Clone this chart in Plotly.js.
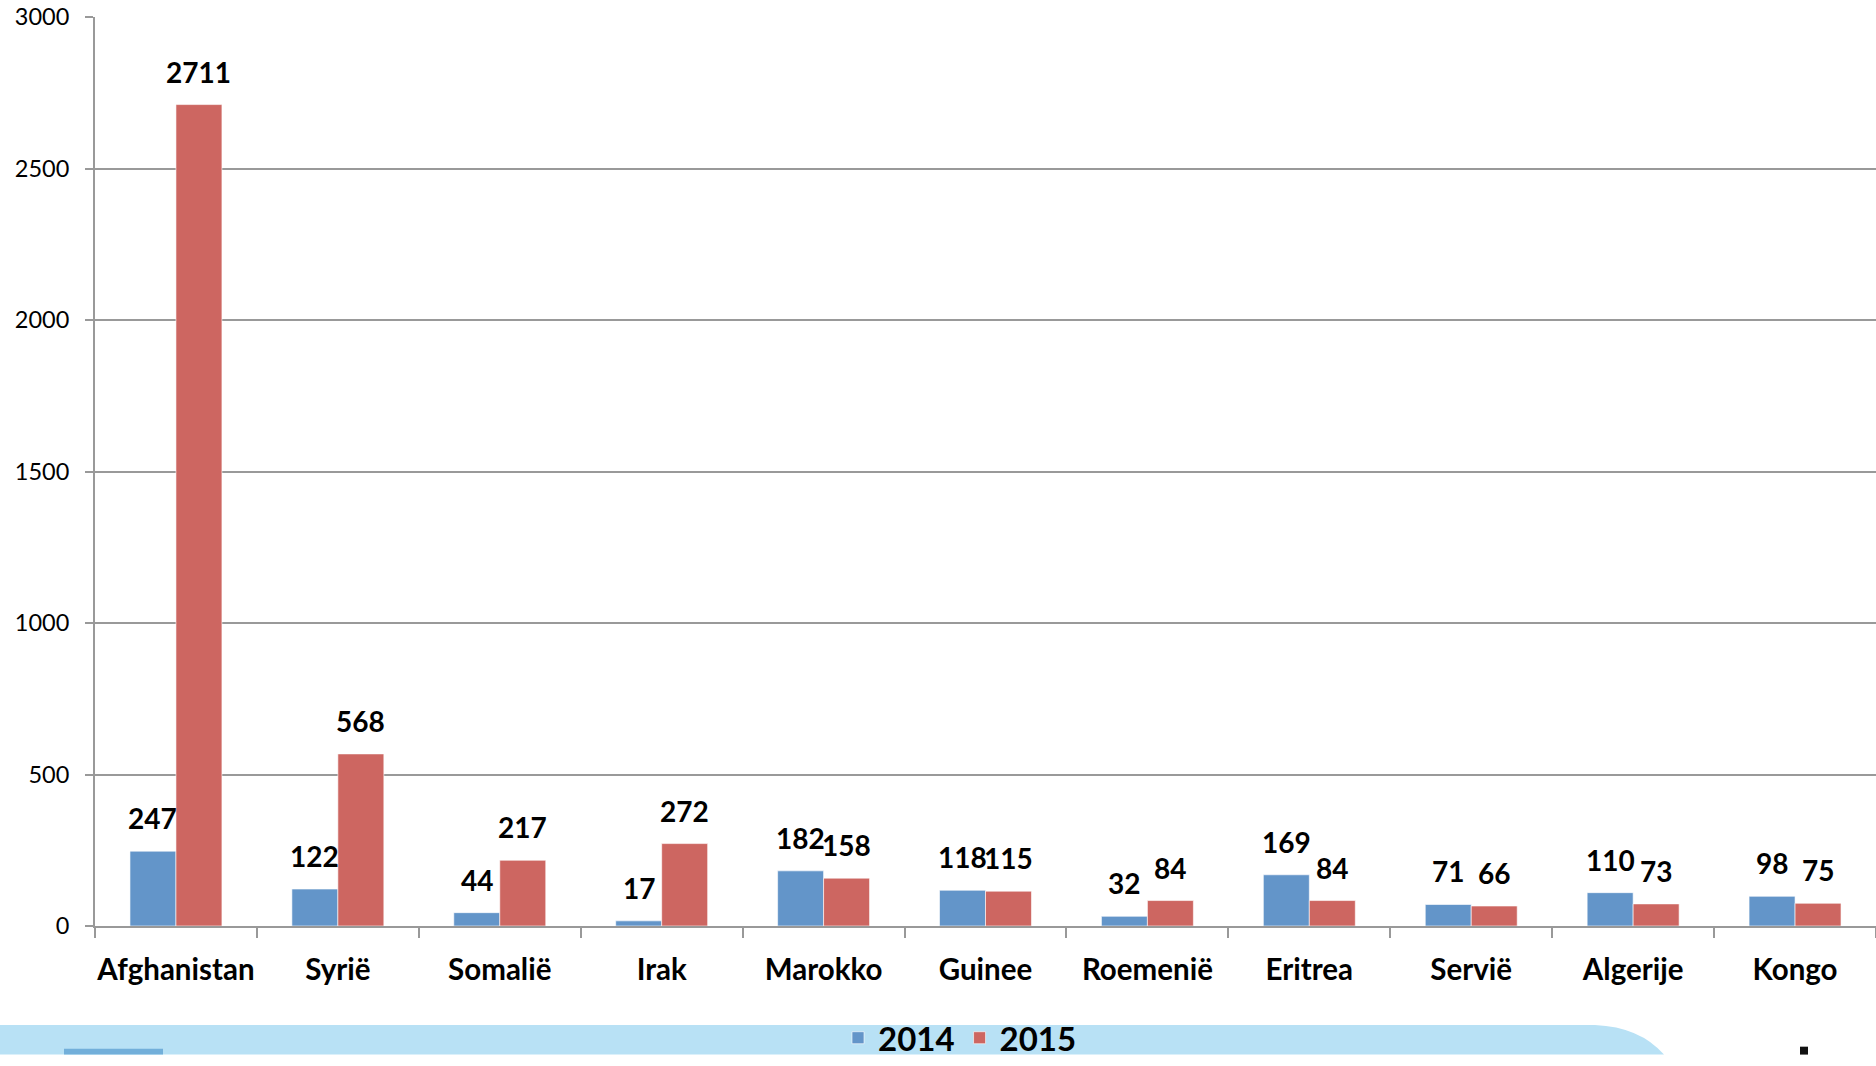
<!DOCTYPE html>
<html>
<head>
<meta charset="utf-8">
<script src="https://cdn.plot.ly/plotly-3.0.1.min.js"></script>
<style>html,body{margin:0;padding:0;background:#fff;}#chart{width:1876px;height:1066px;}</style>
</head>
<body>
<div id="chart"></div>
<script>
const categories = ["Afghanistan","Syrië","Somalië","Irak","Marokko","Guinee","Roemenië","Eritrea","Servië","Algerije","Kongo"];
const v2014 = [247,122,44,17,182,118,32,169,71,110,98];
const v2015 = [2711,568,217,272,158,115,84,84,66,73,75];
const seriesNames = ["2014","2015"];
const yTicks = [0,500,1000,1500,2000,2500,3000];

const W = 1876, H = 1066;
const M = {l:95, r:0, t:17, b:130};
const PW = W - M.l - M.r, PH = H - M.t - M.b;
const px = x => (x - M.l) / PW;
const py = y => (H - M.b - y) / PH;
const bargap = 0.432;
const halfBar = PW / categories.length * (1 - bargap) / 4;

const blue = "#6395C9", red = "#CD6661";
const font = "Lato, 'Open Sans', sans-serif";

const traces = [
  {type:"bar", name:seriesNames[0], x:categories, y:v2014,
   marker:{color:blue, line:{color:"rgba(255,255,255,0.6)", width:1}}, hoverinfo:"x+y"},
  {type:"bar", name:seriesNames[1], x:categories, y:v2015,
   marker:{color:red, line:{color:"rgba(255,255,255,0.6)", width:1}}, hoverinfo:"x+y"}
];

const annotations = [];
[v2014, v2015].forEach((vals, s) => {
  vals.forEach((v, i) => {
    annotations.push({x:categories[i], y:v, xref:"x", yref:"y", text:String(v),
      showarrow:false, yanchor:"bottom", xanchor:"center",
      xshift:(s===0?-1:1)*halfBar, yshift:14,
      font:{family:font, size:28, color:"#000", weight:"bold"}});
  });
});

const shapes = [
  {type:"path", xref:"paper", yref:"paper", layer:"below",
   path:`M ${px(0)} ${py(1066)} L ${px(0)} ${py(1036)} L ${px(1595)} ${py(1036)} Q ${px(1640)} ${py(1038)} ${px(1664)} ${py(1066)} Z`,
   fillcolor:"#B8E1F5", line:{width:0}},
  {type:"rect", xref:"paper", yref:"paper", layer:"below",
   x0:px(64), x1:px(163), y0:py(1066), y1:py(1060), fillcolor:"#72AFDA", line:{width:0}},
  {type:"rect", xref:"paper", yref:"paper", layer:"below",
   x0:px(1800), x1:px(1808), y0:py(1066), y1:py(1058), fillcolor:"#111", line:{width:0}}
];

const layout = {
  width:W, height:H, margin:M,
  paper_bgcolor:"#fff", plot_bgcolor:"#fff",
  barmode:"group", bargap:bargap, bargroupgap:0,
  font:{family:font, color:"#000"},
  xaxis:{type:"category", tickson:"boundaries", ticks:"outside", ticklen:10, tickwidth:2,
    tickcolor:"#999", showline:true, linecolor:"#999", linewidth:2, showgrid:false,
    tickangle:0, automargin:false,
    tickfont:{family:font, size:29.5, color:"#000", weight:"bold"}, ticklabelstandoff:17},
  yaxis:{range:[0,3000], tickvals:yTicks, ticks:"outside", ticklen:8, tickwidth:2,
    tickcolor:"#999", showline:true, linecolor:"#999", linewidth:2,
    showgrid:true, gridcolor:"#999", gridwidth:2, zeroline:false, automargin:false,
    tickfont:{family:font, size:23.5, color:"#000"}, ticklabelstandoff:11},
  showlegend:true,
  legend:{orientation:"h", x:px(960), xanchor:"center", y:py(1049), yanchor:"middle",
    bgcolor:"rgba(0,0,0,0)", font:{family:font, size:33, color:"#000", weight:"bold"},
    itemwidth:30, tracegroupgap:0},
  annotations:annotations, shapes:shapes
};

Plotly.newPlot("chart", traces, layout, {displayModeBar:false, staticPlot:true});
</script>
</body>
</html>
